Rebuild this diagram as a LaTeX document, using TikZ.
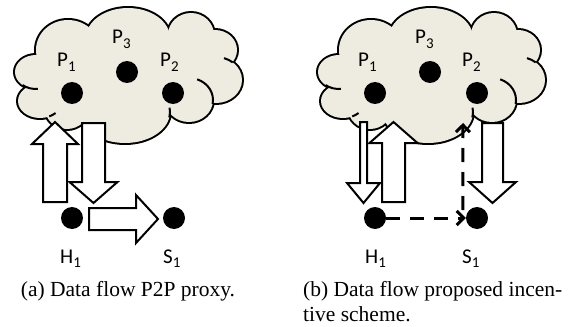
\documentclass[tikz,border=0pt]{standalone}
\usepackage{fontspec}
\setmainfont{Liberation Serif}
\newfontfamily\lblfont{Carlito}
\usetikzlibrary{calc,arrows.meta}

\definecolor{cloudtan}{RGB}{238,236,225}

%% subscript as PowerPoint sets it
\newcommand\sub[1]{\raisebox{-4.5pt}{\fontsize{15}{15}\selectfont #1}}

%% cloud made of bumps: x/y/x radius/y radius
\newcommand\bumplist{68/50/32/30, 128/38/42/30, 191/35/23/22, 215/50/22/20,
  216/80/26/23, 189/100/24/22, 125/112/45/31, 67/108/22/21, 40/101/22/17,
  36/72/21/17, 128/72/90/45}
\newcommand\cloudarc[6]{%
  \draw[line width=2pt] ({#1+#3*cos(#5)},{#2+#4*sin(#5)})
    arc[start angle=#5, end angle=#6, x radius=#3, y radius=#4];}
\newcommand\drawcloud{%
  \foreach \cx/\cy/\rx/\ry in \bumplist
    \draw[line width=4pt] (\cx,\cy) ellipse [x radius=\rx, y radius=\ry];
  \foreach \cx/\cy/\rx/\ry in \bumplist
    \fill[cloudtan] (\cx,\cy) ellipse [x radius=\rx, y radius=\ry];
  \cloudarc{36}{72}{21}{17}{130}{85}
  \cloudarc{40}{101}{22}{17}{65}{45}
  \cloudarc{125}{112}{45}{31}{10}{-8}
  \cloudarc{189}{100}{24}{22}{-70}{10}
  \cloudarc{216}{80}{26}{23}{-50}{-72}}

%% tail, tip, shaft half width, head half width, head length
\newcommand\blockarrow[5]{%
  \coordinate (hb) at ($(#2)!#5!(#1)$);
  \draw[blockarr] ($(#1)!#3!90:(hb)$) -- ($(hb)!#3!-90:(#1)$)
    -- ($(hb)!#4!-90:(#1)$) -- (#2) -- ($(hb)!#4!90:(#1)$)
    -- ($(hb)!#3!90:(#1)$) -- ($(#1)!#3!-90:(hb)$) -- cycle;}

\tikzset{
  dot/.style={circle, fill=black, inner sep=0pt, minimum size=22pt},
  lbl/.style={anchor=base west, inner sep=0pt, font=\lblfont\fontsize{21}{21}\selectfont},
  captxt/.style={inner sep=0pt, font=\fontsize{21.5}{25}\selectfont},
  blockarr/.style={draw=black, fill=white, line width=2pt, line join=miter},
  dasharr/.style={line width=3pt, dash pattern=on 14pt off 10pt,
    -{Straight Barb[length=7pt,width=14pt]}}
}

\begin{document}
\begin{tikzpicture}[x=1pt, y=-1pt]
    \useasboundingbox (0,0) rectangle (569,326);
    %% (a) P2P proxy
    \begin{scope}
    \drawcloud
    \coordinate (upa0) at (55,202);
    \coordinate (upa1) at (55,122);
    \coordinate (dna0) at (93.5,123);
    \coordinate (dna1) at (93.5,203);
    \coordinate (rta0) at (89,219);
    \coordinate (rta1) at (158,219);
    \blockarrow{upa0}{upa1}{12pt}{23pt}{22pt}
    \blockarrow{dna0}{dna1}{11.5pt}{24pt}{21pt}
    \blockarrow{rta0}{rta1}{11pt}{24pt}{22pt}

    \node[dot] (p1a) at (72,93) {};
    \node[dot] (p3a) at (127,72) {};
    \node[dot] (p2a) at (173,93) {};
    \node[dot] (h1a) at (72,218) {};
    \node[dot] (s1a) at (174,218) {};
    \node[lbl] (lp1a) at (57,67) {P\sub{1}};
    \node[lbl] (lp3a) at (112,44) {P\sub{3}};
    \node[lbl] (lp2a) at (160,67) {P\sub{2}};
    \node[lbl] (lh1a) at (60,263) {H\sub{1}};
    \node[lbl] (ls1a) at (163,263) {S\sub{1}};
    \node[captxt, anchor=base] (capa) at (128,296) {(a) Data flow P2P proxy.};
    \end{scope}

    %% (b) proposed scheme
    \begin{scope}[xshift=303pt]
    \drawcloud
    \coordinate (dnb0) at (60.5,122);
    \coordinate (dnb1) at (60.5,203);
    \coordinate (upb0) at (90.5,202);
    \coordinate (upb1) at (90.5,122);
    \coordinate (bdb0) at (189.5,123);
    \coordinate (bdb1) at (189.5,203);
    \blockarrow{dnb0}{dnb1}{3.5pt}{16.5pt}{20pt}
    \blockarrow{upb0}{upb1}{11.5pt}{24pt}{21pt}
    \blockarrow{bdb0}{bdb1}{10.5pt}{23.5pt}{21pt}

    \node[dot] (p1b) at (72,93) {};
    \node[dot] (p3b) at (127,72) {};
    \node[dot] (p2b) at (174,93) {};
    \node[dot] (h1b) at (72,218) {};
    \node[dot] (s1b) at (174,218) {};
    \coordinate (upfoot) at ($(s1b.west)+(-3,-8)$);
    \coordinate (cldtip) at (160,123);
    \draw[dasharr] (h1b.east) -- (s1b.west);
    \draw[dasharr] (upfoot) -- (cldtip);

    \node[lbl] (lp1b) at (55,67) {P\sub{1}};
    \node[lbl] (lp3b) at (112,44) {P\sub{3}};
    \node[lbl] (lp2b) at (159,67) {P\sub{2}};
    \node[lbl] (lh1b) at (62,263) {H\sub{1}};
    \node[lbl] (ls1b) at (159,263) {S\sub{1}};
    \end{scope}
    \node[captxt, anchor=base west] (capb1) at (303,296) {(b) Data flow proposed incen-};
    \node[captxt, anchor=base west] (capb2) at (303,321) {tive scheme.};
\end{tikzpicture}
\end{document}
